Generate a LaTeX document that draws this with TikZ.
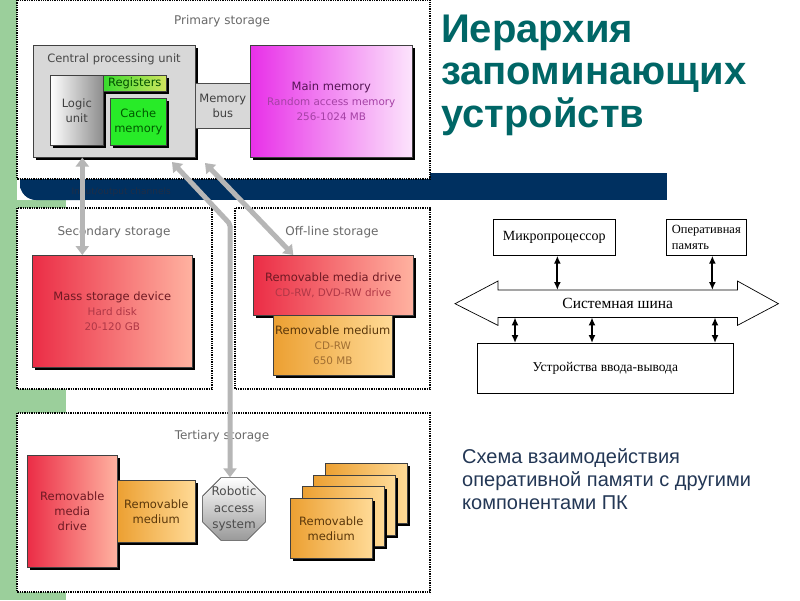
\documentclass[tikz,border=0pt]{standalone}
\usepackage{fontspec}
\setmainfont{Liberation Sans}
\newfontfamily\diagfont{DejaVu Sans}
\newfontfamily\schemefont{Liberation Serif}
\usetikzlibrary{arrows.meta,positioning,shapes.geometric,shadows}
\definecolor{slidegreen}{RGB}{155,207,155}
\definecolor{slidebar}{RGB}{0,48,96}
\definecolor{bartext}{RGB}{30,45,70}
\definecolor{titleteal}{RGB}{0,102,102}
\definecolor{subtitleblue}{RGB}{35,55,85}
\definecolor{areagray}{RGB}{105,105,105}
\definecolor{linkgray}{RGB}{182,182,182}
\definecolor{cpugray}{RGB}{216,216,216}
\definecolor{memmagenta}{RGB}{232,48,232}
\definecolor{memlight}{RGB}{252,228,252}
\definecolor{memtext}{RGB}{85,20,85}
\definecolor{memsub}{RGB}{165,65,165}
\definecolor{drivered}{RGB}{235,45,70}
\definecolor{drivelight}{RGB}{255,178,160}
\definecolor{drivetext}{RGB}{110,25,35}
\definecolor{drivesub}{RGB}{175,55,70}
\definecolor{mediumorange}{RGB}{236,160,50}
\definecolor{mediumlight}{RGB}{255,218,150}
\definecolor{mediumtext}{RGB}{90,55,10}
\definecolor{mediumsub}{RGB}{160,110,50}
\definecolor{cachegreen}{RGB}{40,235,40}
\definecolor{reggreen}{RGB}{55,220,45}
\definecolor{regyellow}{RGB}{210,228,95}
\newcommand\subtext[2]{\textcolor{#1}{\fontsize{10.4}{14}\selectfont #2}}

\begin{document}
\begin{tikzpicture}[x=1pt, y=-1pt, font=\diagfont\fontsize{11.5}{15}\selectfont,
  storagearea/.style={draw=black, densely dotted, line width=1.3pt, fill=white},
  areatitle/.style={text=areagray, font=\diagfont\fontsize{12}{14}\selectfont},
  unitbox/.style={draw=black!75, line width=0.6pt, anchor=north west, inner sep=1pt, align=center,
    general shadow={fill=black, shadow xshift=3pt, shadow yshift=-3pt}},
  driveunit/.style={unitbox, left color=drivered, right color=drivelight, text=drivetext},
  mediumunit/.style={unitbox, left color=mediumorange, right color=mediumlight, text=mediumtext},
  graylink/.style={linkgray, line width=5pt, {Triangle[width=13pt,length=9pt]}-{Triangle[width=13pt,length=9pt]}},
  schemebox/.style={draw, line width=0.7pt, anchor=north west, font=\schemefont\fontsize{14}{16}\selectfont},
  busarrow/.style={line width=1.8pt, {Latex[length=8pt,width=7pt]}-{Latex[length=8pt,width=7pt]}}
]
\useasboundingbox (0,0) rectangle (800,600);
\fill[white] (0,0) rectangle (800,600);

% slide decoration
\fill[slidegreen] (0,0) rectangle (17,200);
\fill[slidegreen] (0,200) rectangle (66,600);
\fill[slidebar, rounded corners=16pt] (20,173) rectangle (100,200);
\fill[slidebar] (40,173) rectangle (667,200);
\fill[slidebar] (20,173) rectangle (40,185);
\node[text=bartext, font=\diagfont\fontsize{9}{10}\selectfont, anchor=west] (channels) at (68,192) {Input/output channels};

% Primary storage
\draw[storagearea] (17,0) rectangle (430,179);
\node[areatitle] (primarytitle) at (222,21) {Primary storage};
\node[unitbox, fill=cpugray, minimum width=162pt, minimum height=112pt] (cpu) at (33,45) {};
\node[text=black!72] (cpulabel) at (114,59) {Central processing unit};
\node[unitbox, left color=white, right color=black!45, text=black!75, minimum width=53pt, minimum height=70pt] (logic) at (50,75) {Logic\\unit};
\node[unitbox, left color=reggreen, right color=regyellow, text=black!70!green, minimum width=63pt, minimum height=16pt, inner sep=0pt] (registers) at (103,75) {Registers};
\node[unitbox, fill=cachegreen, text=black!65!green, minimum width=56pt, minimum height=47pt] (cache) at (110,98) {Cache\\memory};
\node[draw=black!70, fill=cpugray, line width=0.6pt, anchor=north west, align=center, text=black!75, minimum width=55pt, minimum height=45pt, inner sep=0pt] (membus) at (195,83) {Memory\\bus};
\node[unitbox, left color=memmagenta, right color=memlight, text=memtext, minimum width=162pt, minimum height=112pt] (mainmem) at (250,45)
  {Main memory\\\subtext{memsub}{Random access memory}\\\subtext{memsub}{256-1024 MB}};

% Secondary storage
\draw[storagearea] (17,208) rectangle (212,389);
\node[areatitle] (secondarytitle) at (114,232) {Secondary storage};
\node[driveunit, minimum width=160pt, minimum height=112pt] (mass) at (32,255)
  {Mass storage device\\\subtext{drivesub}{Hard disk}\\\subtext{drivesub}{20-120 GB}};

% Off-line storage
\draw[storagearea] (235,208) rectangle (430,389);
\node[areatitle] (offlinetitle) at (332,232) {Off-line storage};
\node[driveunit, minimum width=160pt, minimum height=60pt] (offdrive) at (253,255)
  {Removable media drive\\\subtext{drivesub}{CD-RW, DVD-RW drive}};
\node[mediumunit, minimum width=119pt, minimum height=60pt] (offmedium) at (273,315)
  {Removable medium\\\subtext{mediumsub}{CD-RW}\\\subtext{mediumsub}{650 MB}};

% Tertiary storage
\draw[storagearea] (17,413) rectangle (430,592);
\node[areatitle] (tertiarytitle) at (222,436) {Tertiary storage};
\node[driveunit, minimum width=90pt, minimum height=112pt] (terdrive) at (27,455) {Removable\\media\\drive};
\node[mediumunit, minimum width=78pt, minimum height=62pt] (termedium) at (117,480) {Removable\\medium};
\node[draw=black!75, line width=0.6pt, regular polygon, regular polygon sides=8, minimum size=68pt,
  top color=white, bottom color=black!40] (robot) at (234,509) {};
\node[text=black!70, align=center, font=\diagfont\fontsize{12}{16.5}\selectfont] (robotlabel) at (robot.center) {Robotic\\access\\system};
\node[mediumunit, minimum width=82pt, minimum height=60pt] (stackd) at (325,463) {};
\node[mediumunit, minimum width=82pt, minimum height=60pt] (stackc) at (313,475) {};
\node[mediumunit, minimum width=82pt, minimum height=60pt] (stackb) at (302,486) {};
\node[mediumunit, minimum width=82pt, minimum height=60pt] (stacka) at (290,498) {Removable\\medium};

% links between storage levels
\coordinate (cpuport) at (172,162);
\coordinate (busport) at (205,163);
\coordinate (robotbend) at (230,224);
\draw[graylink] ([xshift=-32pt]cpu.south) -- ([xshift=-32pt]cpu.south |- mass.north);
\draw[graylink, rounded corners=2pt] (cpuport) -- (robotbend) -- (robotbend |- robot.north);
\draw[graylink] (busport) -- ([xshift=-40pt]offdrive.north);

% title and caption
\node[anchor=north west, inner sep=0pt, align=left, text=titleteal, font=\bfseries\fontsize{40}{42.5}\selectfont] (title) at (441,14.5)
  {Иерархия\\запоминающих\\устройств};
\node[anchor=north west, inner sep=0pt, align=left, text=subtitleblue, font=\fontsize{20}{23}\selectfont] (caption) at (462,448)
  {Схема взаимодействия\\оперативной памяти с другими\\компонентами ПК};

% scheme of the system bus
\node[schemebox, minimum width=122pt, minimum height=36pt] (cpublock) at (493,219) {Микропроцессор};
\node[schemebox, minimum width=80pt, minimum height=36pt, align=left, inner sep=2pt, font=\schemefont\fontsize{12.5}{16}\selectfont] (ramblock) at (666,219) {Оперативная\\память};
\node[schemebox, minimum width=256pt, minimum height=50pt, font=\schemefont\fontsize{13.5}{16}\selectfont] (ioblock) at (477,343) {Устройства ввода-вывода};
\node[anchor=north west, inner sep=0pt, minimum width=239pt, minimum height=27pt, font=\schemefont\fontsize{15.5}{17}\selectfont] (bus) at (498,290) {Системная шина};
\draw[line width=0.7pt] (bus.north west) -- (bus.north east) -- ++(0,-9) -- ([xshift=41pt]bus.east)
  -- ([yshift=-8pt]bus.south east) -- (bus.south east) -- (bus.south west) -- ([yshift=-8pt]bus.south west)
  -- ([xshift=-43pt]bus.west) -- ([yshift=9pt]bus.north west) -- cycle;
\coordinate (tapa) at (515,0);
\coordinate (tapb) at (592,0);
\coordinate (tapc) at (715,0);
\draw[busarrow] ([xshift=3pt]cpublock.south) -- ([xshift=3pt]cpublock.south |- bus.north);
\draw[busarrow] ([xshift=6pt]ramblock.south) -- ([xshift=6pt]ramblock.south |- bus.north);
\draw[busarrow] (bus.south -| tapa) -- (ioblock.north -| tapa);
\draw[busarrow] (bus.south -| tapb) -- (ioblock.north -| tapb);
\draw[busarrow] (bus.south -| tapc) -- (ioblock.north -| tapc);
\end{tikzpicture}
\end{document}
